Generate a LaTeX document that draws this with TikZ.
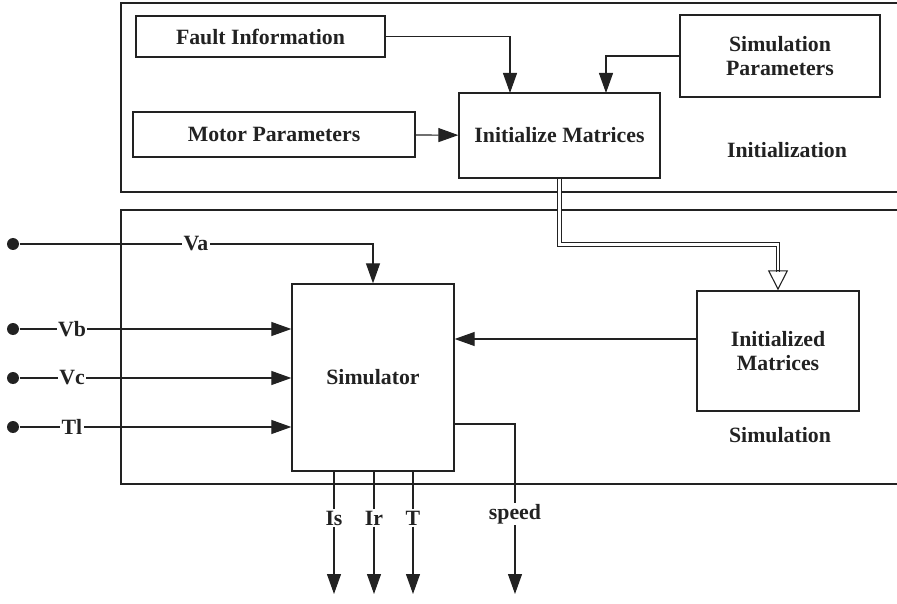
\documentclass[tikz,border=0pt]{standalone}
\usepackage{fontspec}
\setmainfont{Liberation Serif}
\usepackage{tikz}
\usetikzlibrary{arrows.meta,positioning}
\definecolor{SLine}{HTML}{222222}

\begin{document}
\begin{tikzpicture}[
  x=1pt,y=-1pt,
  every node/.style={font=\fontsize{21.8}{24}\selectfont\bfseries},
  every path/.style={line width=1.1pt,color=SLine},
  blk/.style={draw=SLine,line width=1.3pt,align=center,inner sep=0pt},
  lbl/.style={fill=white,inner sep=1pt},
  dot/.style={circle,fill=SLine,inner sep=0pt,minimum size=12pt},
  a/.style={-{Triangle[length=20pt,width=14pt]}},
  dbl/.style={double,double distance=2.6pt,line width=1pt},
  tip/.style={-{Triangle[open,length=20pt,width=20pt,line width=1.1pt]}}
]
  \useasboundingbox (0,0) rectangle (897,604);
  % section frames, open on the right
  \draw[line width=1.3pt] (897,3) -| (121,192) -- (897,192);
  \draw[line width=1.3pt] (897,210) -| (121,484) -- (897,484);
  \node (initlbl) at (787,150) {Initialization};
  \node (simlbl) at (780,435) {Simulation};

  % initialization blocks
  \node[blk,minimum width=249pt,minimum height=41pt] (fault) at (260.5,36.5) {Fault Information};
  \node[blk,minimum width=282pt,minimum height=45pt] (motor) at (274,134.5) {Motor Parameters};
  \node[blk,minimum width=201pt,minimum height=85pt] (init) at (559.5,135.5) {Initialize Matrices};
  \node[blk,minimum width=200pt,minimum height=82pt] (simpar) at (780,56) {Simulation\\Parameters};

  \draw[a] (fault.east) -| (510,93);
  \draw[a] (simpar.west) -| (606,93);
  \draw[a] (motor) -- (init);

  % simulation blocks
  \node[blk,minimum width=162pt,minimum height=120pt] (initm) at (778,351) {Initialized\\Matrices};
  \node[blk,minimum width=162pt,minimum height=187pt] (sim) at (373,377.5) {Simulator};

  \draw[dbl] (init.south) -- ++(0,66) -| ([yshift=18pt]initm.north);
  \draw[tip] ([yshift=20pt]initm.north) -- (initm.north);
  \draw[a] (initm.west |- 0,339) -- (sim.east |- 0,339);

  % inputs
  \node[dot] (pa) at (13,244) {};
  \node[dot] (pb) at (13,329) {};
  \node[dot] (pc) at (13,378) {};
  \node[dot] (pt) at (13,427) {};
  \node[lbl] (va) at (196,244) {Va};
  \node[lbl] (vb) at (72,329) {Vb};
  \node[lbl] (vc) at (72,378) {Vc};
  \node[lbl] (tl) at (72,427) {Tl};
  \foreach \p/\l in {pa/va,pb/vb,pc/vc,pt/tl}
    {\draw (\p) -- (\l);}
  \draw[a] (va) -| (sim.north);
  \foreach \l in {vb,vc,tl}
    {\draw[a] (\l) -- (sim.west |- \l);}

  % outputs
  \node[lbl] (is) at (334,518) {Is};
  \node[lbl] (ir) at (374,518) {Ir};
  \node[lbl] (tq) at (413,518) {T};
  \node[lbl] (speed) at (515,514) {speed};
  \coordinate (spout) at (454,424);
  \foreach \o in {is,ir,tq,speed}
    {\coordinate (\o end) at (\o |- 0,594);
     \draw[a] (\o) -- (\o end);}
  \foreach \o in {is,ir,tq}
    {\draw (sim.south -| \o) -- (\o);}
  \draw (spout) -| (speed);
\end{tikzpicture}
\end{document}
